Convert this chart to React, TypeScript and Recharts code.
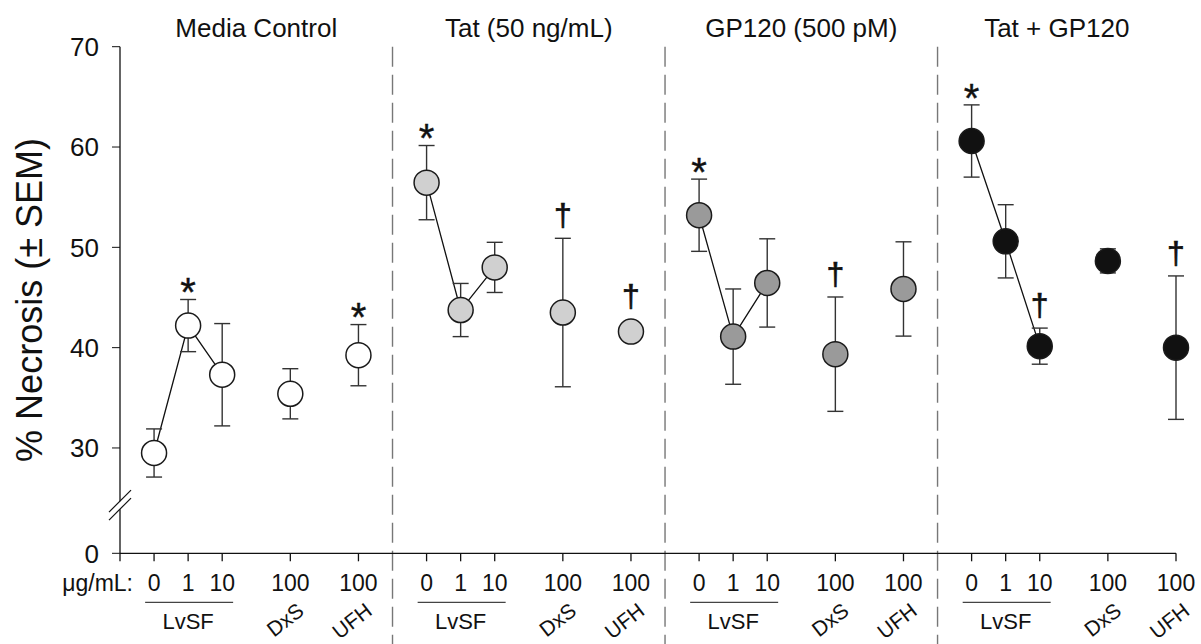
import React from "react";
import {
  ComposedChart,
  Line,
  Scatter,
  ErrorBar,
  XAxis,
  YAxis,
  ReferenceLine,
  Label,
} from "recharts";

const FONT = "'Liberation Sans', Arial, sans-serif";

// panels and x categories
const panelTitles = ["Media Control", "Tat (50 ng/mL)", "GP120 (500 pM)", "Tat + GP120"];
const doses = ["0", "1", "10", "100", "100"];
const agents = ["LvSF", "LvSF", "LvSF", "DxS", "UFH"];

// % necrosis means and SEM
const mediaMean = [29.5, 42.2, 37.3, 35.4, 39.25];
const mediaSem = [2.4, 2.6, 5.1, 2.5, 3.05];
const tatMean = [56.45, 43.75, 48.0, 43.5, 41.6];
const tatSem = [3.7, 2.65, 2.5, 7.4, 0.4];
const gpMean = [53.2, 41.1, 46.45, 39.35, 45.85];
const gpSem = [3.6, 4.75, 4.4, 5.7, 4.7];
const comboMean = [60.6, 50.6, 40.15, 48.65, 40.0];
const comboSem = [3.6, 3.65, 1.8, 1.2, 7.15];

// significance marks
const mediaMarks = ["", "*", "", "", "*"];
const tatMarks = ["*", "", "", "†", "†"];
const gpMarks = ["*", "", "", "†", ""];
const comboMarks = ["*", "", "†", "", "†"];

// 19.5 is where the broken axis puts its "0"
const yTicks = [19.5, 30, 40, 50, 60, 70];

// layout of the category slots on the shared x axis
const SLOTS = [1, 2, 3, 5, 7];
const PANEL_SPAN = 8;
const X_MAX = 31;
const Y_TOP = 70;
const FILLS = ["#ffffff", "#d0d0d0", "#9a9a9a", "#111111"];

const groups = [
  { mean: mediaMean, sem: mediaSem, marks: mediaMarks },
  { mean: tatMean, sem: tatSem, marks: tatMarks },
  { mean: gpMean, sem: gpSem, marks: gpMarks },
  { mean: comboMean, sem: comboSem, marks: comboMarks },
];

const seriesData = groups.map((g, p) =>
  g.mean.map((v, i) => ({ x: p * PANEL_SPAN + SLOTS[i], y: v, err: g.sem[i] }))
);

const markData = groups.flatMap((g, p) =>
  g.marks
    .map((m, i) => ({
      x: p * PANEL_SPAN + SLOTS[i],
      y: g.mean[i] + Math.max(g.sem[i], 1.3),
      mark: m,
    }))
    .filter((d) => d.mark !== "")
);

const titleData = panelTitles.map((t, p) => ({
  x: (p * PANEL_SPAN + Math.min((p + 1) * PANEL_SPAN, X_MAX)) / 2,
  y: Y_TOP,
  title: t,
}));

const tickInfo = new Map<number, { dose: string; agent: string; i: number }>();
groups.forEach((_, p) =>
  SLOTS.forEach((s, i) => tickInfo.set(p * PANEL_SPAN + s, { dose: doses[i], agent: agents[i], i }))
);
const xTicks = [0, ...Array.from(tickInfo.keys()).sort((a, b) => a - b)];
const dividers = [1, 2, 3].map((p) => p * PANEL_SPAN);

const XTick = (props: any) => {
  const { x, y, payload } = props;
  const v = payload.value;
  const txt = { fontFamily: FONT, fill: "#111" };
  if (v === 0) {
    return (
      <text x={x + 13} y={y + 28} textAnchor="end" fontSize={23} {...txt}>
        μg/mL:
      </text>
    );
  }
  const info = tickInfo.get(v);
  if (!info) return null;
  return (
    <g>
      <text x={x} y={y + 28} textAnchor="middle" fontSize={23} {...txt}>
        {info.dose}
      </text>
      {info.i === 1 && (
        <>
          <line x1={x - 43} x2={x + 45} y1={y + 39} y2={y + 39} stroke="#444" strokeWidth={1.3} />
          <text x={x} y={y + 66} textAnchor="middle" fontSize={22} {...txt}>
            {info.agent}
          </text>
        </>
      )}
      {info.i >= 3 && (
        <text
          transform={`translate(${x + 15},${y + 50}) rotate(-38)`}
          textAnchor="end"
          fontSize={21}
          {...txt}
        >
          {info.agent}
        </text>
      )}
    </g>
  );
};

const TitleShape = (props: any) => {
  const { cx, cy, payload } = props;
  return (
    <text x={cx} y={cy - 10} textAnchor="middle" fontSize={26} fontFamily={FONT} fill="#111">
      {payload.title}
    </text>
  );
};

const makeDot = (fill: string) => (props: any) => (
  <circle cx={props.cx} cy={props.cy} r={12.5} fill={fill} stroke="#1a1a1a" strokeWidth={1.5} />
);

const MarkShape = (props: any) => {
  const { cx, cy, payload } = props;
  if (payload.mark === "*") {
    return (
      <text
        x={cx}
        y={cy - 16.5 + 0.58 * 40}
        textAnchor="middle"
        fontSize={40}
        fontFamily={FONT}
        fill="#111"
        stroke="#111"
        strokeWidth={0.4}
      >
        *
      </text>
    );
  }
  return (
    <text
      x={cx}
      y={cy - 21.5 + 0.3 * 32}
      textAnchor="middle"
      fontSize={32}
      fontFamily={FONT}
      fill="#111"
      stroke="#111"
      strokeWidth={0.6}
    >
      †
    </text>
  );
};

const YLabel = (props: any) => {
  const { viewBox } = props;
  const cx = viewBox.x + 9;
  const cy = viewBox.y + viewBox.height / 2;
  return (
    <text
      x={cx}
      y={cy}
      transform={`rotate(-90, ${cx}, ${cy})`}
      textAnchor="middle"
      dominantBaseline="central"
      fontSize={36}
      fontFamily={FONT}
      fill="#111"
    >
      % Necrosis (± SEM)
    </text>
  );
};

export default function App() {
  return (
    <div style={{ position: "absolute", left: 0, top: 0, fontFamily: FONT, background: "#fff" }}>
      <ComposedChart
        width={1201}
        height={644}
        margin={{ top: 46.7, right: 25, bottom: 50.7, left: 20 }}
      >
        <XAxis
          dataKey="x"
          type="number"
          domain={[0, X_MAX]}
          ticks={xTicks}
          interval={0}
          height={40}
          tickSize={8}
          tickMargin={2}
          stroke="#111"
          strokeWidth={1.3}
          tick={<XTick />}
        />
        <YAxis
          type="number"
          domain={[19.5, Y_TOP]}
          ticks={yTicks}
          interval={0}
          width={100}
          axisLine={false}
          tickSize={8}
          tickMargin={13}
          stroke="#111"
          tickFormatter={(v: number) => (v === 19.5 ? "0" : String(v))}
          tick={{ fontSize: 26, fill: "#111", fontFamily: FONT }}
        >
          <Label content={<YLabel />} />
        </YAxis>

        {/* broken y axis line */}
        <ReferenceLine
          segment={[{ x: 0, y: Y_TOP }, { x: 0, y: 24.7 }]}
          stroke="#111"
          strokeWidth={1.3}
          ifOverflow="visible"
        />
        <ReferenceLine
          segment={[{ x: 0, y: 23.9 }, { x: 0, y: 19.5 }]}
          stroke="#111"
          strokeWidth={1.3}
          ifOverflow="visible"
        />
        <ReferenceLine
          segment={[{ x: -0.323, y: 23.61 }, { x: 0.323, y: 25.8 }]}
          stroke="#111"
          strokeWidth={1.2}
          ifOverflow="visible"
        />
        <ReferenceLine
          segment={[{ x: -0.323, y: 22.81 }, { x: 0.323, y: 25.0 }]}
          stroke="#111"
          strokeWidth={1.2}
          ifOverflow="visible"
        />

        {dividers.map((d) => (
          <ReferenceLine
            key={d}
            segment={[{ x: d, y: Y_TOP }, { x: d, y: 10 }]}
            stroke="#777"
            strokeWidth={1.4}
            strokeDasharray="20 8"
            ifOverflow="visible"
          />
        ))}

        {seriesData.map((d, p) => (
          <Line
            key={`line-${p}`}
            data={d.slice(0, 3)}
            dataKey="y"
            stroke="#111"
            strokeWidth={1.3}
            dot={false}
            activeDot={false}
            isAnimationActive={false}
          />
        ))}

        {seriesData.map((d, p) => (
          <Scatter
            key={`pts-${p}`}
            data={d}
            dataKey="y"
            shape={makeDot(FILLS[p])}
            isAnimationActive={false}
          >
            <ErrorBar dataKey="err" direction="y" width={8} stroke="#333" strokeWidth={1.4} />
          </Scatter>
        ))}

        <Scatter data={markData} dataKey="y" shape={<MarkShape />} isAnimationActive={false} />
        <Scatter data={titleData} dataKey="y" shape={<TitleShape />} isAnimationActive={false} />
      </ComposedChart>
    </div>
  );
}
